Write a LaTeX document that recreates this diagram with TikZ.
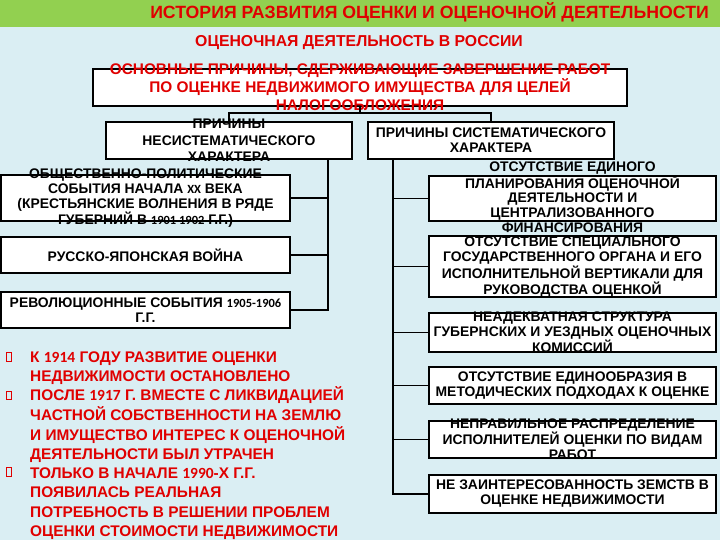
\documentclass[tikz,border=0pt]{standalone}
\usepackage{fontspec}
\setmainfont{Liberation Sans}
\newfontfamily\numfont{Carlito}
\definecolor{bg}{HTML}{DAEEF3}
\definecolor{banner}{HTML}{92D050}
\definecolor{redtxt}{HTML}{E00000}
\newcommand{\smallnum}[1]{{\numfont\bfseries\fontsize{12.5}{15}\selectfont #1}}
\newcommand{\bignum}[1]{{\numfont\bfseries\fontsize{15.5}{19}\selectfont #1}}
\tikzset{
  box/.style={draw=black, line width=1.8pt, fill=white, inner sep=0pt},
  blk/.style={font=\bfseries\fontsize{13.9}{15}\selectfont, align=center, inner sep=0pt, text=black},
  redlbl/.style={font=\bfseries\fontsize{15.4}{18}\selectfont, align=center, inner sep=0pt, text=redtxt},
  subl/.style={font=\bfseries\fontsize{13.9}{16.5}\selectfont, align=center, inner sep=0pt, text=black},
  conn/.style={line width=1.8pt, draw=black},
  bulletbox/.style={draw=redtxt, line width=1pt, minimum width=5.5pt, minimum height=8.5pt, inner sep=0pt}
}
\begin{document}
\begin{tikzpicture}[x=1pt,y=-1pt]
\useasboundingbox (0,0) rectangle (720,540);
\fill[bg] (0,0) rectangle (720,540);
\fill[banner] (0,0) rectangle (720,27);
\node[font=\bfseries\fontsize{17.7}{20}\selectfont, text=redtxt, anchor=base east, inner sep=0pt] (title) at (709,19) {ИСТОРИЯ РАЗВИТИЯ ОЦЕНКИ И ОЦЕНОЧНОЙ ДЕЯТЕЛЬНОСТИ};
\node[font=\bfseries\fontsize{15.8}{20}\selectfont, text=redtxt, anchor=base, inner sep=0pt] (subtitle) at (359,47) {ОЦЕНОЧНАЯ ДЕЯТЕЛЬНОСТЬ В РОССИИ};

% top box
\node[box, minimum width=534pt, minimum height=37pt, label={[redlbl]center:{ОСНОВНЫЕ ПРИЧИНЫ, СДЕРЖИВАЮЩИЕ ЗАВЕРШЕНИЕ РАБОТ\\ПО ОЦЕНКЕ НЕДВИЖИМОГО ИМУЩЕСТВА ДЛЯ ЦЕЛЕЙ\\НАЛОГООБЛОЖЕНИЯ}}] (top) at (360,87.5) {};

% sub boxes
\node[box, minimum width=246pt, minimum height=37pt, label={[subl]center:{ПРИЧИНЫ\\НЕСИСТЕМАТИЧЕСКОГО\\ХАРАКТЕРА}}] (lsub) at (229,140.5) {};
\node[box, minimum width=246pt, minimum height=37pt, label={[blk]center:{ПРИЧИНЫ СИСТЕМАТИЧЕСКОГО\\ХАРАКТЕРА}}] (rsub) at (491,140.5) {};

% left boxes
\node[box, minimum width=289pt, minimum height=46pt, label={[blk]center:{ОБЩЕСТВЕННО-ПОЛИТИЧЕСКИЕ\\СОБЫТИЯ НАЧАЛА \smallnum{XX} ВЕКА\\(КРЕСТЬЯНСКИЕ ВОЛНЕНИЯ В РЯДЕ\\ГУБЕРНИЙ В \smallnum{1901 1902} Г.Г.)}}] (l1) at (145.5,198) {};
\node[box, minimum width=289pt, minimum height=36pt, label={[blk]center:{РУССКО-ЯПОНСКАЯ ВОЙНА}}] (l2) at (145.5,255) {};
\node[box, minimum width=289pt, minimum height=36pt, label={[blk]center:{РЕВОЛЮЦИОННЫЕ СОБЫТИЯ \smallnum{1905-1906}\\Г.Г.}}] (l3) at (145.5,310) {};

% right boxes
\node[box, minimum width=287pt, minimum height=45pt, label={[blk, yshift=1.2pt, font=\bfseries\fontsize{13.9}{14.8}\selectfont]center:{ОТСУТСТВИЕ ЕДИНОГО\\ПЛАНИРОВАНИЯ ОЦЕНОЧНОЙ\\ДЕЯТЕЛЬНОСТИ И\\ЦЕНТРАЛИЗОВАННОГО\\ФИНАНСИРОВАНИЯ}}] (r1) at (572.5,198.5) {};
\node[box, minimum width=287pt, minimum height=61pt, label={[blk, yshift=-0.8pt]center:{ОТСУТСТВИЕ СПЕЦИАЛЬНОГО\\ГОСУДАРСТВЕННОГО ОРГАНА И ЕГО\\ИСПОЛНИТЕЛЬНОЙ ВЕРТИКАЛИ ДЛЯ\\РУКОВОДСТВА ОЦЕНКОЙ}}] (r2) at (572.5,266.5) {};
\node[box, minimum width=287pt, minimum height=39pt, label={[blk]center:{НЕАДЕКВАТНАЯ СТРУКТУРА\\ГУБЕРНСКИХ И УЕЗДНЫХ ОЦЕНОЧНЫХ\\КОМИССИЙ}}] (r3) at (572.5,332.5) {};
\node[box, minimum width=287pt, minimum height=37pt, label={[blk]center:{ОТСУТСТВИЕ ЕДИНООБРАЗИЯ В\\МЕТОДИЧЕСКИХ ПОДХОДАХ К ОЦЕНКЕ}}] (r4) at (572.5,385.5) {};
\node[box, minimum width=287pt, minimum height=37pt, label={[blk]center:{НЕПРАВИЛЬНОЕ РАСПРЕДЕЛЕНИЕ\\ИСПОЛНИТЕЛЕЙ ОЦЕНКИ ПО ВИДАМ\\РАБОТ}}] (r5) at (572.5,439.5) {};
\node[box, minimum width=287pt, minimum height=38pt, label={[blk]center:{НЕ ЗАИНТЕРЕСОВАННОСТЬ ЗЕМСТВ В\\ОЦЕНКЕ НЕДВИЖИМОСТИ}}] (r6) at (572.5,494) {};

% connectors
\coordinate (hub) at (360,113);
\draw[conn] (top.south) -- (hub);
\draw[conn] (hub) -| (lsub.north);
\draw[conn] (hub) -| (rsub.north);
\coordinate (lspine) at (328,159);
\coordinate (rspine) at (393,159);
\draw[conn] (lspine) |- (l3.east);
\draw[conn] (l1.east) -- (l1.east -| lspine);
\draw[conn] (l2.east) -- (l2.east -| lspine);
\draw[conn] (rspine) |- (r6.west);
\foreach \n in {r1,r2,r3,r4,r5} \draw[conn] (\n.west) -- (\n.west -| rspine);

% bullets
\node[bulletbox] (b1) at (9,357) {};
\node[bulletbox] (b2) at (9,395.4) {};
\node[bulletbox] (b3) at (9,472.2) {};
\node[font=\bfseries\fontsize{15.4}{19.2}\selectfont, text=redtxt, anchor=base west, inner sep=0pt] (notes) at (30,362) {%
\begin{tabular}[t]{@{}l@{}}
К \bignum{1914} ГОДУ РАЗВИТИЕ ОЦЕНКИ\\
НЕДВИЖИМОСТИ ОСТАНОВЛЕНО\\
ПОСЛЕ \bignum{1917} Г. ВМЕСТЕ С ЛИКВИДАЦИЕЙ\\
ЧАСТНОЙ СОБСТВЕННОСТИ НА ЗЕМЛЮ\\
И ИМУЩЕСТВО ИНТЕРЕС К ОЦЕНОЧНОЙ\\
ДЕЯТЕЛЬНОСТИ БЫЛ УТРАЧЕН\\
ТОЛЬКО В НАЧАЛЕ \bignum{1990}-Х Г.Г.\\
ПОЯВИЛАСЬ РЕАЛЬНАЯ\\
ПОТРЕБНОСТЬ В РЕШЕНИИ ПРОБЛЕМ\\
ОЦЕНКИ СТОИМОСТИ НЕДВИЖИМОСТИ
\end{tabular}};
\end{tikzpicture}
\end{document}
